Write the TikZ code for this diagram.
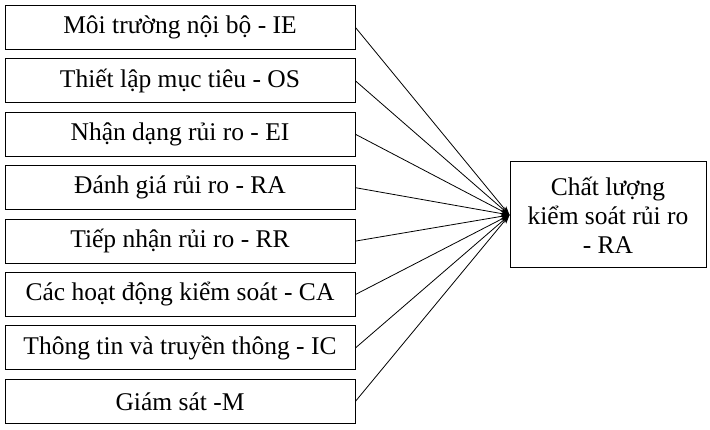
\documentclass[tikz,border=0pt]{standalone}
\usepackage{fontspec}
\setmainfont{Liberation Serif}
\usetikzlibrary{arrows.meta}
\begin{document}
\begin{tikzpicture}[x=1pt,y=-1pt,
  lbox/.style={draw,line width=1pt,minimum width=350pt,minimum height=44pt,inner sep=0pt,font=\fontsize{25.5}{29}\selectfont},
  rbox/.style={draw,line width=1pt,minimum width=196pt,minimum height=106pt,inner sep=0pt,align=center,font=\fontsize{25.5}{29}\selectfont},
  conn/.style={line width=0.8pt,-{Stealth[length=9pt,width=6pt]}}]
\useasboundingbox (0,0) rectangle (710,430);
\node[rbox] (r) at (608,215) {Chất lượng\\kiểm soát rủi ro\\- RA};
\foreach \t [count=\i from 0] in {Môi trường nội bộ - IE,Thiết lập mục tiêu - OS,Nhận dạng rủi ro - EI,Đánh giá rủi ro - RA,Tiếp nhận rủi ro - RR,Các hoạt động kiểm soát - CA,Thông tin và truyền thông - IC,Giám sát -M}{
  \node[lbox] (b\i) at (180,{27.5+53.4*\i}) {\t};
  \draw[conn] (b\i.east) -- (r.west);
}
\end{tikzpicture}
\end{document}
